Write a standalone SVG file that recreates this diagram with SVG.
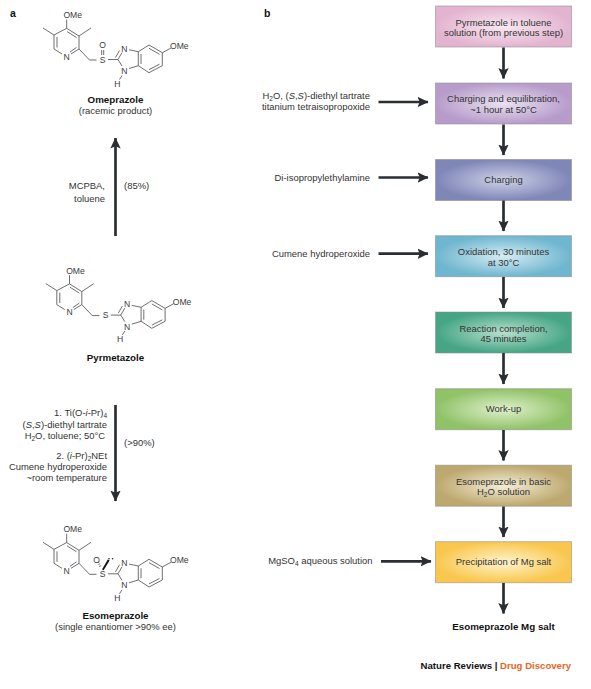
<svg xmlns="http://www.w3.org/2000/svg" xmlns:xlink="http://www.w3.org/1999/xlink" width="591" height="689" viewBox="0 0 591 689">
<style>
text{font-family:"Liberation Sans",Arial,sans-serif;fill:#333;font-size:9.45px}
.b{font-weight:700;fill:#111;font-size:9.75px}
.f{font-weight:700;fill:#111;font-size:9.6px}
.p{font-weight:700;fill:#111;font-size:10.5px}
.c{text-anchor:middle}
.r{text-anchor:end}
.m{font-size:8.6px;text-anchor:middle;fill:#3c3c3c}
.bond{fill:none;stroke:#4a4a4a;stroke-width:.8}
.box{stroke:#8a8a8a;stroke-opacity:.55;stroke-width:1}
.arrow{fill:none;stroke:#2a2e33;stroke-width:2.7}
</style>
<defs>
<marker id="ah" viewBox="0 0 11 11" refX="10.5" refY="5.5" markerWidth="11" markerHeight="11" markerUnits="userSpaceOnUse" orient="auto"><path d="M0 .3L11 5.5L0 10.7L2.2 5.5Z" fill="#2a2e33"/></marker>
<path id="sk" class="bond" d="M66.7 19.5V28.3L79 36V49L71 54M62 54L54 49V35L66.7 28.3M67 31.5L76.5 37.5M76.5 47.5L70 52M57 37V47.5M54 35L43 28M79 36L91 28M79 49L89.5 60H96.5M108 59.5H118L122 52.5M115.5 57.5L119.5 50.5M118 59.5L122 66M129 49.8L138.3 51.7M129 68.5L138.3 65.7M122 75.5L119.5 79.5M138.3 51.7V65.7L149 72.7L162.3 65.7V52.7L149 45L138.3 51.7M149 48.3L159.5 54.3M159.5 64.2L149 69.6M141 54V64M162.3 52.7L171 48"/>
<radialGradient id="g1"><stop offset="0" stop-color="#f8e8f1"/><stop offset="1" stop-color="#e3b4d0"/></radialGradient>
<radialGradient id="g2"><stop offset="0" stop-color="#e9e1f0"/><stop offset="1" stop-color="#b79ccb"/></radialGradient>
<radialGradient id="g3"><stop offset="0" stop-color="#ced2e6"/><stop offset="1" stop-color="#7f86b8"/></radialGradient>
<radialGradient id="g4"><stop offset="0" stop-color="#d6ecf2"/><stop offset="1" stop-color="#6fb6d0"/></radialGradient>
<radialGradient id="g5"><stop offset="0" stop-color="#b9e0cf"/><stop offset="1" stop-color="#45a585"/></radialGradient>
<radialGradient id="g6"><stop offset="0" stop-color="#e0f0cc"/><stop offset="1" stop-color="#90c268"/></radialGradient>
<radialGradient id="g7"><stop offset="0" stop-color="#f4eed8"/><stop offset="1" stop-color="#bda86e"/></radialGradient>
<radialGradient id="g8"><stop offset="0" stop-color="#fef5cf"/><stop offset="1" stop-color="#f9c74e"/></radialGradient>
</defs>
<rect width="591" height="689" fill="#fff"/>
<text class="p" x="10" y="17">a</text>
<text class="p" x="264" y="17">b</text>

<g id="omeprazole">
<use href="#sk"/>
<path class="bond" d="M101.7 50V55M103.7 50V55"/>
<g>
<text class="m" x="72.7" y="18">OMe</text><text class="m" x="66.7" y="59.5">N</text><text class="m" x="102.7" y="62.5">S</text><text class="m" x="102.7" y="48">O</text><text class="m" x="124.3" y="51.5">N</text><text class="m" x="124.3" y="74">N</text><text class="m" x="117.3" y="86.5">H</text><text class="m" x="179.3" y="49">OMe</text>
</g>
<text class="b c" x="115.5" y="103">Omeprazole</text>
<text class="c" x="115.5" y="114">(racemic product)</text>
</g>

<g id="pyrmetazole">
<use href="#sk" transform="translate(2.8 255.6)"/>
<text class="m" x="75.5" y="273.6">OMe</text><text class="m" x="69.5" y="315.1">N</text><text class="m" x="105.5" y="318.1">S</text><text class="m" x="127.1" y="307.1">N</text><text class="m" x="127.1" y="329.6">N</text><text class="m" x="120.1" y="342.1">H</text><text class="m" x="182.1" y="304.6">OMe</text>
<text class="b c" x="115.5" y="361">Pyrmetazole</text>
</g>

<g id="esomeprazole">
<use href="#sk" transform="translate(0 514.3)"/>
<path d="M102 569.5L107.8 559.6L109.6 560.6L103.6 570.3Z" fill="#111"/>
<path class="bond" d="M99.2 566.5L101.2 565.7M98.4 564.5L100.2 563.7M97.8 562.6L99.4 561.9"/>
<circle cx="109" cy="558.8" r=".8" fill="#222"/><circle cx="112.6" cy="558.8" r=".8" fill="#222"/>
<text class="m" x="72.7" y="532.3">OMe</text><text class="m" x="66.7" y="573.8">N</text><text class="m" x="102.7" y="577">S</text><text class="m" x="96.7" y="562.5">O</text><text class="m" x="124.3" y="565.8">N</text><text class="m" x="124.3" y="588.3">N</text><text class="m" x="117.3" y="600.8">H</text><text class="m" x="179.3" y="563.3">OMe</text>
<text class="b c" x="115.5" y="619">Esomeprazole</text>
<text class="c" x="115.5" y="630">(single enantiomer &gt;90% ee)</text>
</g>

<g id="box1"><rect class="box" x="435.5" y="6" width="136" height="41" fill="url(#g1)"/><text class="c" x="503.5" y="25.5">Pyrmetazole in toluene</text><text class="c" x="503.5" y="36">solution (from previous step)</text></g>
<g id="box2"><rect class="box" x="435.5" y="83" width="136" height="41" fill="url(#g2)"/><text class="c" x="503.5" y="102">Charging and equilibration,</text><text class="c" x="503.5" y="113">~1 hour at 50°C</text></g>
<g id="box3"><rect class="box" x="435.5" y="159.5" width="136" height="41" fill="url(#g3)"/><text class="c" x="503.5" y="182.5">Charging</text></g>
<g id="box4"><rect class="box" x="435.5" y="235.7" width="136" height="41" fill="url(#g4)"/><text class="c" x="503.5" y="255">Oxidation, 30 minutes</text><text class="c" x="503.5" y="265.5">at 30°C</text></g>
<g id="box5"><rect class="box" x="435.5" y="312" width="136" height="41" fill="url(#g5)"/><text class="c" x="503.5" y="331.5">Reaction completion,</text><text class="c" x="503.5" y="342">45 minutes</text></g>
<g id="box6"><rect class="box" x="435.5" y="388.7" width="136" height="41" fill="url(#g6)"/><text class="c" x="503.5" y="412">Work-up</text></g>
<g id="box7"><rect class="box" x="435.5" y="465.2" width="136" height="41" fill="url(#g7)"/><text class="c" x="503.5" y="484.5">Esomeprazole in basic</text><text class="c" x="503.5" y="495">H<tspan font-size="6.5" dy="2">2</tspan><tspan dy="-2">O solution</tspan></text></g>
<g id="box8"><rect class="box" x="435.5" y="541.7" width="136" height="41" fill="url(#g8)"/><text class="c" x="503.5" y="565">Precipitation of Mg salt</text></g>

<g id="connectors">
<path class="arrow" marker-end="url(#ah)" d="M115.5 236V138"/>
<path class="arrow" marker-end="url(#ah)" d="M115.5 405V501"/>
<path class="arrow" marker-end="url(#ah)" d="M503.5 47.5V78.5"/>
<path class="arrow" marker-end="url(#ah)" d="M503.5 124.5V155"/>
<path class="arrow" marker-end="url(#ah)" d="M503.5 200.5V231"/>
<path class="arrow" marker-end="url(#ah)" d="M503.5 277V308"/>
<path class="arrow" marker-end="url(#ah)" d="M503.5 353V384"/>
<path class="arrow" marker-end="url(#ah)" d="M503.5 430V460.5"/>
<path class="arrow" marker-end="url(#ah)" d="M503.5 506.5V537"/>
<path class="arrow" marker-end="url(#ah)" d="M503.5 583V613.5"/>
<path class="arrow" marker-end="url(#ah)" d="M378.5 102H428"/>
<path class="arrow" marker-end="url(#ah)" d="M378.5 177.5H428"/>
<path class="arrow" marker-end="url(#ah)" d="M378.5 253.7H428"/>
<path class="arrow" marker-end="url(#ah)" d="M381 561.3H431"/>
</g>

<g id="labels">
<text class="r" x="105" y="189">MCPBA,</text>
<text class="r" x="105" y="202">toluene</text>
<text x="124" y="189">(85%)</text>
<text class="r" x="107" y="416">1. Ti(O-<tspan font-style="italic">i</tspan>-Pr)<tspan font-size="6.5" dy="2">4</tspan></text>
<text class="r" x="107" y="427.5">(<tspan font-style="italic">S</tspan>,<tspan font-style="italic">S</tspan>)-diethyl tartrate</text>
<text class="r" x="105" y="439">H<tspan font-size="6.5" dy="2">2</tspan><tspan dy="-2">O, toluene; 50°C</tspan></text>
<text class="r" x="107" y="458.5">2. (<tspan font-style="italic">i</tspan>-Pr)<tspan font-size="6.5" dy="2">2</tspan><tspan dy="-2">NEt</tspan></text>
<text class="r" x="107" y="470">Cumene hydroperoxide</text>
<text class="r" x="107" y="481">~room temperature</text>
<text x="124" y="446">(&gt;90%)</text>
<text class="r" x="370" y="99">H<tspan font-size="6.5" dy="2">2</tspan><tspan dy="-2">O, (</tspan><tspan font-style="italic">S</tspan>,<tspan font-style="italic">S</tspan>)-diethyl tartrate</text>
<text class="r" x="370" y="109.5">titanium tetraisopropoxide</text>
<text class="r" x="370" y="180.5">Di-isopropylethylamine</text>
<text class="r" x="370" y="256.5">Cumene hydroperoxide</text>
<text class="r" x="372.5" y="564">MgSO<tspan font-size="6.5" dy="2">4</tspan><tspan dy="-2"> aqueous solution</tspan></text>
<text class="b c" x="503.5" y="629.5">Esomeprazole Mg salt</text>
<text class="f r" x="571" y="669">Nature Reviews | <tspan fill="#e8641b">Drug Discovery</tspan></text>
</g>
</svg>
